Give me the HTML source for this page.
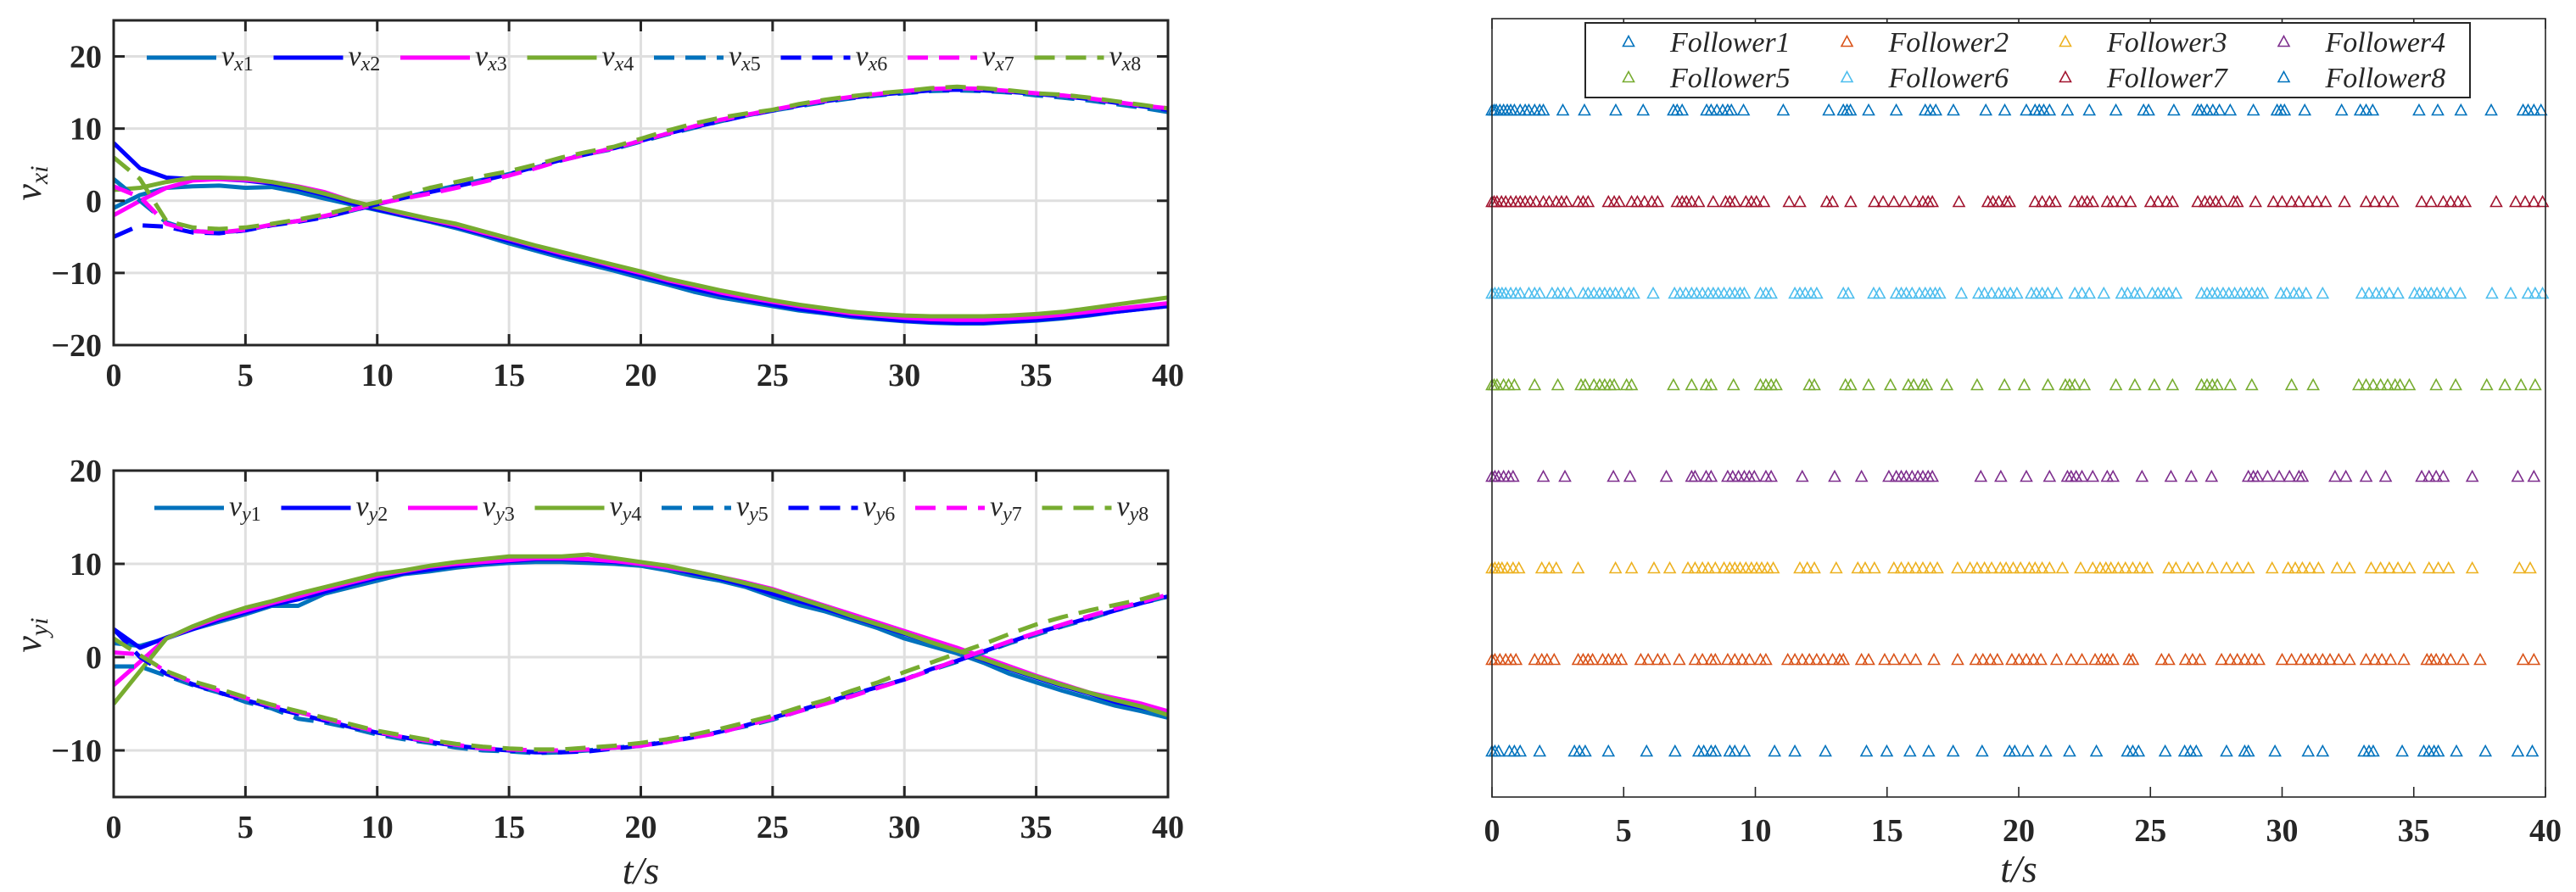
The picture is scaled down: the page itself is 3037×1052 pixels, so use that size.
<!DOCTYPE html>
<html><head><meta charset="utf-8"><style>
html,body{margin:0;padding:0;background:#fff;}
svg{display:block;}
.tk{font-family:"Liberation Serif",serif;font-weight:bold;font-size:38px;fill:#262626;}
.it{font-family:"Liberation Serif",serif;font-style:italic;fill:#262626;}
</style></head><body>
<svg id="fig" width="3037" height="1052" viewBox="0 0 3037 1052" xmlns="http://www.w3.org/2000/svg">
<g id="p1"></g>
<g id="p2"></g>
<g id="p3"></g>
</svg>
<script>
const tGrid=[0,1,2,3,4,5,6,7,8,9,10,11,12,13,14,15,16,17,18,19,20,21,22,23,24,25,26,27,28,29,30,31,32,33,34,35,36,37,38,39,40];
const xTicks=[0,5,10,15,20,25,30,35,40];
const vxTicks=[-20,-10,0,10,20];
const vyTicks=[-10,0,10,20];
const vx1=[-1,0.8,1.8,2,2.1,1.8,1.9,1.2,0.3,-0.5,-1.3,-2.1,-2.9,-3.8,-4.8,-5.9,-6.9,-7.9,-8.8,-9.7,-10.7,-11.6,-12.6,-13.4,-14,-14.6,-15.2,-15.6,-16.1,-16.4,-16.7,-16.9,-17,-17,-16.8,-16.6,-16.3,-15.9,-15.4,-15,-14.6];
const vx2=[8,4.5,3.2,3,3,2.8,2.4,1.7,0.8,-0.3,-1.2,-2,-2.8,-3.6,-4.6,-5.6,-6.6,-7.6,-8.5,-9.4,-10.3,-11.3,-12.2,-13,-13.7,-14.4,-15,-15.5,-15.9,-16.3,-16.6,-16.8,-16.9,-16.9,-16.7,-16.5,-16.2,-15.8,-15.4,-15,-14.6];
const vx3=[-2,0,1.8,2.8,3,2.9,2.6,2,1.2,0,-0.9,-1.8,-2.6,-3.4,-4.4,-5.3,-6.3,-7.3,-8.1,-9.1,-10,-11,-11.8,-12.7,-13.4,-14,-14.6,-15.1,-15.6,-15.9,-16.2,-16.4,-16.5,-16.5,-16.3,-16.1,-15.8,-15.4,-15,-14.6,-14.2];
const vx4=[1.5,1.8,2.6,3.2,3.2,3.1,2.6,1.9,1,0,-0.9,-1.7,-2.5,-3.2,-4.2,-5.2,-6.2,-7.1,-8,-8.9,-9.8,-10.8,-11.6,-12.4,-13.1,-13.8,-14.4,-14.9,-15.4,-15.7,-15.9,-16,-16,-16,-15.9,-15.7,-15.4,-14.9,-14.4,-13.9,-13.4];
const vx5=[3,0,-3,-4.2,-4.4,-4.1,-3.3,-2.8,-2.2,-1.4,-0.5,0.4,1.3,2.1,2.9,3.7,4.6,5.6,6.5,7.2,8.2,9.2,10.1,11,11.8,12.5,13.1,13.7,14.2,14.6,14.9,15.2,15.3,15.2,15,14.6,14.3,13.9,13.4,12.9,12.3];
const vx6=[-5,-3.4,-3.6,-4.4,-4.5,-4.1,-3.4,-2.9,-2.3,-1.4,-0.5,0.4,1.2,2,2.8,3.7,4.7,5.7,6.5,7.3,8.3,9.3,10.2,11,11.8,12.5,13.2,13.8,14.3,14.7,15,15.3,15.4,15.3,15.1,14.8,14.5,14.1,13.6,13.1,12.6];
const vx7=[2,0.5,-3.2,-4.2,-4.4,-4,-3.3,-2.8,-2.1,-1.3,-0.4,0.3,1,1.8,2.6,3.5,4.5,5.6,6.5,7.3,8.3,9.3,10.3,11.2,11.9,12.6,13.3,13.9,14.4,14.8,15.2,15.5,15.6,15.5,15.2,14.9,14.6,14.2,13.7,13.2,12.8];
const vx8=[6,3,-2.8,-3.7,-3.9,-3.7,-3.2,-2.6,-1.9,-1,-0.2,0.8,1.8,2.6,3.4,4.1,5,6,6.8,7.5,8.6,9.7,10.7,11.5,12.1,12.6,13.4,14,14.5,14.9,15.2,15.6,15.8,15.6,15.3,14.9,14.7,14.3,13.8,13.3,12.8];
const vy1=[1.5,1.2,2,3,3.8,4.6,5.5,5.5,6.8,7.5,8.2,8.9,9.2,9.6,9.9,10.1,10.2,10.2,10.1,10,9.8,9.3,8.7,8.2,7.5,6.5,5.6,4.9,4,3.1,2,1.2,0.4,-0.6,-1.8,-2.7,-3.6,-4.4,-5.2,-5.8,-6.5];
const vy2=[3,1,2.1,3,4,4.8,5.6,6.2,7,7.8,8.5,9,9.4,9.8,10.1,10.3,10.5,10.5,10.4,10.2,10,9.6,9,8.4,7.7,6.8,6,5.2,4.3,3.4,2.5,1.6,0.7,-0.3,-1.3,-2.2,-3.1,-3.9,-4.8,-5.4,-6];
const vy3=[-3,-0.5,2,3.2,4.2,5,5.8,6.5,7.3,8,8.7,9.2,9.7,10,10.2,10.4,10.6,10.6,10.5,10.3,10,9.6,9.2,8.6,8,7.3,6.4,5.5,4.6,3.7,2.8,1.9,1,0,-1,-2,-2.9,-3.8,-4.4,-5,-5.8];
const vy4=[-5,-1.5,2,3.3,4.4,5.3,6,6.8,7.5,8.2,8.9,9.3,9.8,10.2,10.5,10.8,10.8,10.8,11,10.6,10.2,9.8,9.2,8.6,7.9,7.2,6.3,5.4,4.4,3.5,2.6,1.6,0.7,-0.2,-1.2,-2.1,-3,-3.8,-4.6,-5.3,-6.2];
const vy5=[-1,-1,-2,-3,-3.8,-4.8,-5.5,-6.6,-7,-7.6,-8.3,-8.8,-9.2,-9.7,-10,-10.1,-10.3,-10.2,-10,-9.7,-9.5,-9,-8.6,-8,-7.4,-6.7,-5.8,-5,-4.1,-3.2,-2.4,-1.4,-0.5,0.5,1.5,2.4,3.3,4.1,5,5.8,6.5];
const vy6=[3,0,-1.8,-2.9,-3.8,-4.6,-5.4,-6.1,-6.8,-7.5,-8.1,-8.6,-9.1,-9.5,-9.8,-10,-10.2,-10.2,-10.1,-9.8,-9.5,-9.1,-8.6,-8,-7.3,-6.5,-5.7,-4.9,-4,-3.2,-2.4,-1.3,-0.4,0.6,1.6,2.6,3.4,4.2,5,5.8,6.5];
const vy7=[0.5,0.3,-1.6,-2.7,-3.6,-4.4,-5.2,-5.9,-6.6,-7.3,-8,-8.6,-9,-9.4,-9.8,-9.9,-10,-10,-9.9,-9.7,-9.5,-9.1,-8.6,-8.1,-7.3,-6.6,-5.8,-5,-4.2,-3.3,-2.4,-1.4,-0.3,0.7,1.7,2.6,3.5,4.4,5.2,5.9,6.7];
const vy8=[2,0.2,-1.5,-2.6,-3.4,-4.3,-5.1,-5.8,-6.5,-7.2,-7.9,-8.4,-8.9,-9.3,-9.6,-9.8,-9.9,-9.9,-9.7,-9.5,-9.2,-8.8,-8.3,-7.7,-7,-6.3,-5.4,-4.6,-3.6,-2.7,-1.6,-0.6,0.4,1.4,2.5,3.5,4.3,5,5.6,6.2,7];
const ev1=[0,0.11,0.25,0.66,0.85,1.07,1.81,3.13,3.32,3.54,4.42,5.87,6.95,7.85,8.04,8.32,8.48,9.03,9.22,9.58,10.73,11.5,12.66,14.22,14.99,15.87,16.58,17.51,18.61,19.65,19.85,20.34,21.03,21.93,22.95,24.13,24.33,24.55,25.56,26.3,26.52,26.74,27.89,28.58,28.72,29.73,30.99,31.54,33.11,33.3,33.46,34.56,35.38,35.58,35.77,35.93,36.62,37.72,38.95,39.5];
const ev2=[0,0.11,0.3,0.52,0.71,0.91,1.62,1.89,2.09,2.36,3.27,3.46,3.65,3.82,4.2,4.42,4.69,4.91,5.65,5.93,6.29,6.56,7.11,7.71,7.99,8.32,8.48,8.95,9.22,9.5,9.77,10.19,10.4,11.23,11.5,11.78,12.05,12.33,12.6,12.93,13.2,13.34,14.03,14.3,14.91,15.26,15.68,16.09,16.78,17.68,18.37,18.64,18.92,19.19,19.74,20.01,20.29,20.56,20.84,21.44,21.99,22.4,22.9,23.14,23.36,23.58,24.19,24.33,25.42,25.7,26.33,26.6,26.88,27.7,28.03,28.3,28.58,28.85,29.12,30,30.36,30.72,30.99,31.27,31.54,31.82,32.15,32.56,33.19,33.52,33.79,34.12,34.62,35.5,35.66,35.85,36.12,36.4,36.87,37.52,39.15,39.56];
const ev3=[0,0.11,0.25,0.38,0.58,0.8,1.02,1.89,2.17,2.44,3.27,4.69,5.3,6.15,6.75,7.44,7.71,7.99,8.21,8.48,8.81,9.03,9.22,9.42,9.64,9.85,10.05,10.24,10.46,10.68,11.69,11.97,12.24,13.07,13.89,14.17,14.52,15.26,15.54,15.81,16.09,16.36,16.64,16.91,17.68,18.15,18.42,18.7,18.97,19.3,19.52,19.79,20.07,20.4,20.62,20.89,21.17,21.66,22.35,22.81,23.09,23.31,23.5,23.78,24.05,24.33,24.6,24.88,25.7,25.97,26.44,26.8,27.35,27.89,28.3,28.72,29.62,30.23,30.5,30.77,31.05,31.38,32.09,32.56,33.38,33.74,34.07,34.4,34.84,35.58,35.93,36.32,37.22,39.01,39.42];
const ev4=[0,0.11,0.25,0.44,0.63,0.8,1.95,2.77,4.61,5.24,6.62,7.58,7.71,8.13,8.32,8.95,9.14,9.36,9.58,9.77,9.96,10.4,10.6,11.78,13.01,14.03,15.07,15.35,15.54,15.73,15.95,16.17,16.36,16.56,16.72,18.56,19.32,20.29,21.17,21.85,21.99,22.18,22.4,22.81,23.36,23.58,24.68,25.78,26.55,27.32,28.72,28.91,29.07,29.45,29.89,30.28,30.64,30.77,32.01,32.42,33.19,33.93,35.3,35.58,35.85,36.12,37.22,38.95,39.56];
const ev5=[0,0.08,0.19,0.44,0.63,0.85,1.62,2.5,3.38,3.54,3.87,4.09,4.28,4.48,4.64,5.11,5.3,6.89,7.58,8.13,8.32,9.17,10.19,10.4,10.6,10.79,12.05,12.24,13.42,13.62,14.3,15.13,15.81,16.01,16.36,16.5,17.27,18.42,19.46,20.21,21.11,21.77,21.93,22.13,22.49,23.69,24.41,25.15,25.84,26.94,27.15,27.35,27.54,28.03,28.85,30.36,31.18,32.91,33.19,33.46,33.74,34.01,34.29,34.48,34.83,35.85,36.59,37.77,38.46,39.07,39.61];
const ev6=[0,0.11,0.25,0.38,0.52,0.71,0.91,1.07,1.4,1.62,1.81,2.28,2.5,2.72,2.99,3.46,3.65,3.87,4.09,4.28,4.48,4.69,4.91,5.19,5.38,6.12,6.93,7.14,7.36,7.58,7.77,7.99,8.21,8.4,8.59,8.81,9.03,9.22,9.42,9.58,10.19,10.4,10.6,11.5,11.69,11.89,12.11,12.33,13.34,13.53,14.49,14.71,15.35,15.54,15.73,15.95,16.23,16.45,16.64,16.83,17,17.82,18.48,18.7,18.97,19.24,19.46,19.68,19.93,20.48,20.67,20.89,21.11,21.44,22.13,22.4,22.68,23.23,23.91,24.13,24.41,24.6,25.07,25.29,25.51,25.7,25.97,26.94,27.15,27.35,27.54,27.76,27.98,28.2,28.42,28.64,28.85,29.07,29.26,29.95,30.17,30.45,30.64,30.91,31.54,33.03,33.3,33.57,33.79,34.07,34.4,35.03,35.22,35.44,35.66,35.88,36.12,36.4,36.76,37.97,38.68,39.34,39.61,39.89];
const ev7=[0,0.08,0.19,0.36,0.52,0.71,0.91,1.07,1.26,1.45,1.67,1.95,2.17,2.44,2.64,2.83,3.27,3.46,3.65,4.42,4.64,4.83,5.3,5.52,5.79,6.07,6.29,7.03,7.22,7.38,7.58,7.85,8.4,8.87,9.03,9.22,9.64,9.85,10.04,10.32,11.28,11.69,12.71,12.93,13.62,14.52,14.85,15.26,15.68,16.09,16.36,16.56,16.72,17.73,18.83,19.02,19.24,19.52,19.65,20.62,20.89,21.17,21.39,22.13,22.4,22.6,22.81,23.36,23.58,23.91,24.24,25.01,25.29,25.62,25.84,26.8,27.07,27.26,27.48,27.7,28.16,28.3,28.99,29.67,30,30.36,30.64,30.99,31.32,31.65,32.37,33.19,33.52,33.85,34.2,35.3,35.66,36.12,36.4,36.68,36.95,38.13,38.87,39.23,39.56,39.89];
const ev8=[0,0.08,0.16,0.3,0.44,0.58,0.71,0.85,1.07,1.26,1.4,1.62,1.81,1.95,2.69,3.51,4.7,5.74,6.89,7.03,7.22,8.15,8.32,8.54,8.76,8.95,9.09,9.55,11.06,12.79,13.34,13.48,13.61,14.3,15.35,16.45,16.64,16.85,17.52,18.75,19.47,20.29,20.62,20.78,20.95,21.17,21.85,22.68,23.69,24.74,24.93,25.89,26.8,26.93,27.15,27.37,27.62,28.03,28.91,29.81,29.95,30.09,30.86,32.26,32.97,33.19,33.44,35.2,35.91,36.79,37.94,39.15,39.34,39.56,39.83];
const followerNames=["Follower1","Follower2","Follower3","Follower4","Follower5","Follower6","Follower7","Follower8"];

const NS="http://www.w3.org/2000/svg";
function mk(parent,tag,attrs,text){const e=document.createElementNS(NS,tag);for(const k in attrs)e.setAttribute(k,attrs[k]);if(text!==undefined)e.textContent=text;parent.appendChild(e);return e;}
const colsV=["#0072BD","#0000FF","#FF00FF","#77AC30","#0072BD","#0000FF","#FF00FF","#77AC30"];

function linePanel(g,y0,y1,ymin,ymax,ticks,series,sym,legendY,ylab,ylabY,showT){
  const X0=134,X1=1377;
  const sx=t=>X0+(t-0)/(40-0)*(X1-X0);
  const sy=v=>y1-(v-ymin)/(ymax-ymin)*(y1-y0);
  const clip="clip"+sym;
  const cp=mk(g,"clipPath",{id:clip});mk(cp,"rect",{x:X0,y:y0,width:X1-X0,height:y1-y0});
  xTicks.forEach(t=>{const l=mk(g,"line",{x1:sx(t),x2:sx(t),y1:y0,y2:y1,stroke:"#dfdfdf","stroke-width":3});
    
    });
  ticks.forEach(v=>{const l=mk(g,"line",{x1:X0,x2:X1,y1:sy(v),y2:sy(v),stroke:"#dfdfdf","stroke-width":3});
    
    });
  const sg=mk(g,"g",{"clip-path":"url(#"+clip+")"});
  series.forEach((arr,i)=>{const pts=arr.map((v,k)=>sx(tGrid[k]).toFixed(1)+","+sy(v).toFixed(1)).join(" ");
    const p=mk(sg,"polyline",{points:pts,fill:"none",stroke:colsV[i],"stroke-width":5,"stroke-linejoin":"round","stroke-dasharray":i>=4?"24,13":"none"});
    
    });
  const ax=mk(g,"rect",{x:X0,y:y0,width:X1-X0,height:y1-y0,fill:"none",stroke:"#262626","stroke-width":3});
  
  
  xTicks.forEach(t=>{mk(g,"line",{x1:sx(t),x2:sx(t),y1:y1,y2:y1-13,stroke:"#262626","stroke-width":3});mk(g,"line",{x1:sx(t),x2:sx(t),y1:y0,y2:y0+13,stroke:"#262626","stroke-width":3});
    const tx=mk(g,"text",{x:sx(t),y:y1+48,"text-anchor":"middle",class:"tk"},String(t));
    
    });
  ticks.forEach(v=>{mk(g,"line",{x1:X0,x2:X0+13,y1:sy(v),y2:sy(v),stroke:"#262626","stroke-width":3});mk(g,"line",{x1:X1,x2:X1-13,y1:sy(v),y2:sy(v),stroke:"#262626","stroke-width":3});
    const tx=mk(g,"text",{x:120,y:sy(v)+13,"text-anchor":"end",class:"tk"},v<0?"\u2212"+(-v):String(v));
    
    });
  // legend
  const lx0=sym==="x"?173:182;
  for(let i=0;i<8;i++){const bx=lx0+i*149.5;
    const le=mk(g,"g",{});
    
    
    mk(le,"line",{x1:bx,x2:bx+82,y1:legendY,y2:legendY,stroke:colsV[i],"stroke-width":5,"stroke-dasharray":i>=4?"24,13":"none"});
    const t=mk(le,"text",{x:bx+88,y:legendY+9,class:"it","font-size":34},"v");
    const s1=mk(t,"tspan",{"font-size":24,dy:6},sym);
    const s2=mk(t,"tspan",{"font-size":24,"font-style":"normal"},String(i+1));}
  const yl=mk(g,"text",{x:0,y:0,class:"it","font-size":44,"text-anchor":"middle",transform:"translate(48,"+ylabY+") rotate(-90)"},"v");
  mk(yl,"tspan",{"font-size":30,dy:8},ylab);
  
  
  if(showT){const tl=mk(g,"text",{x:(X0+X1)/2,y:1042,"text-anchor":"middle",class:"it","font-size":46},"t/s");
    
    }
}
linePanel(document.getElementById("p1"),24,407,-20,25,vxTicks,[vx1,vx2,vx3,vx4,vx5,vx6,vx7,vx8],"x",68,"xi",216,false);
linePanel(document.getElementById("p2"),555,940,-15,20,vyTicks,[vy1,vy2,vy3,vy4,vy5,vy6,vy7,vy8],"y",599,"yi",749,true);

// event panel
(function(){
  const g=document.getElementById("p3");
  const X0=1759,X1=3001,Y0=22,Y1=940;
  const sx=t=>X0+t/40*(X1-X0);
  const sy=v=>Y1-(v-0.5)/(9-0.5)*(Y1-Y0);
  const cols=["#0072BD","#D95319","#EDB120","#7E2F8E","#77AC30","#4DBEEE","#A2142F","#0072BD"];
  const evs=[ev1,ev2,ev3,ev4,ev5,ev6,ev7,ev8];
  const tri=(x,y)=>(x-6.5)+","+(y+5.5)+" "+(x+6.5)+","+(y+5.5)+" "+x+","+(y-6.5);
  evs.forEach((arr,i)=>{const rg=mk(g,"g",{});
    
    
    arr.forEach(t=>{const p=mk(rg,"polygon",{points:tri(sx(t),sy(i+1)),fill:"none",stroke:cols[i],"stroke-width":1.6});
      
      });});
  const ax=mk(g,"rect",{x:X0,y:Y0,width:X1-X0,height:Y1-Y0,fill:"none",stroke:"#262626","stroke-width":1.6});
  
  
  xTicks.forEach(t=>{mk(g,"line",{x1:sx(t),x2:sx(t),y1:Y1,y2:Y1-12,stroke:"#262626","stroke-width":1.6});mk(g,"line",{x1:sx(t),x2:sx(t),y1:Y0,y2:Y0+12,stroke:"#262626","stroke-width":1.6});
    const tx=mk(g,"text",{x:sx(t),y:Y1+52,"text-anchor":"middle",class:"tk"},String(t));
    
    });
  const tl=mk(g,"text",{x:(X0+X1)/2,y:1040,"text-anchor":"middle",class:"it","font-size":46},"t/s");
  
  
  const lg=mk(g,"g",{});
  
  
  mk(lg,"rect",{x:1869,y:27,width:1043,height:88,fill:"#fff",stroke:"#262626","stroke-width":2});
  followerNames.forEach((n,i)=>{const c=i%4,r=Math.floor(i/4);const mx=1920+c*257.5,my=49+r*42;
    mk(lg,"polygon",{points:tri(mx,my),fill:"none",stroke:cols[i],"stroke-width":1.6});
    const t=mk(lg,"text",{x:mx+49,y:my+12,class:"it","font-size":34,fill:"#000"},n);
    
    });
})();
</script>
</body></html>
